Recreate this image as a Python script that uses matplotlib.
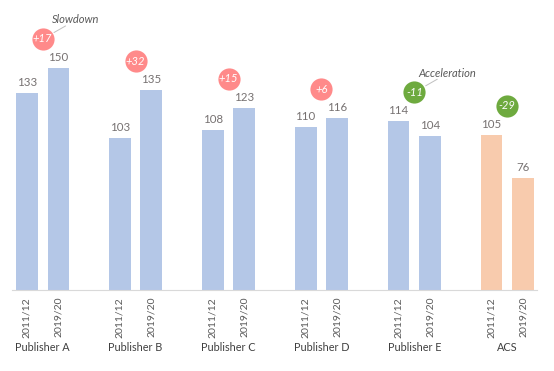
import matplotlib
matplotlib.use("Agg")
import matplotlib.pyplot as plt
import numpy as np

plt.rcParams['font.family'] = ['Lato', 'DejaVu Sans']

publishers = ["Publisher A", "Publisher B", "Publisher C", "Publisher D", "Publisher E", "ACS"]
periods = ["2011/12", "2019/20"]
values_2011 = [133, 103, 108, 110, 114, 105]
values_2019 = [150, 135, 123, 116, 104, 76]
changes = [17, 32, 15, 6, -11, -29]
bar_colors = ["#B4C7E7", "#B4C7E7", "#B4C7E7", "#B4C7E7", "#B4C7E7", "#F8CBAD"]
notes = {0: "Slowdown", 4: "Acceleration"}

W, H, DPI = 554, 371, 100
fig = plt.figure(figsize=(W / DPI, H / DPI), dpi=DPI)
ax = fig.add_axes([12 / W, (H - 290) / H, (537 - 12) / W, 290 / H])

x = np.arange(len(publishers))
off = 0.17
bw = 0.235
ax.bar(x - off, values_2011, width=bw, color=bar_colors)
ax.bar(x + off, values_2019, width=bw, color=bar_colors)

ax.set_xlim(-0.33, 5.32)
ax.set_ylim(0, 290 / 1.48)
for s in ["top", "right", "left"]:
    ax.spines[s].set_visible(False)
ax.spines["bottom"].set_color("#D9D9D9")
ax.spines["bottom"].set_linewidth(0.8)
ax.set_yticks([])

ticks = np.concatenate([x - off, x + off])
labels = [periods[0]] * len(x) + [periods[1]] * len(x)
ax.set_xticks(ticks)
ax.set_xticklabels(labels, rotation=90, fontsize=7.5, color="#595959")
ax.tick_params(axis="x", length=0, pad=5)

txt_col = "#767171"
for i in range(len(x)):
    for xx, v in ((x[i] - off, values_2011[i]), (x[i] + off, values_2019[i])):
        ax.annotate(str(v), (xx, v), xytext=(0, 3.5), textcoords="offset points",
                    ha="center", va="bottom", fontsize=8.3, color=txt_col)
    ax.text(x[i], -0.197, publishers[i], transform=ax.get_xaxis_transform(),
            ha="center", va="center", fontsize=7.8, color="#404040")

    d = changes[i]
    by = max(values_2011[i], values_2019[i]) + 19.6
    col = "#FF8A8A" if d > 0 else "#6EAA3F"
    ax.scatter([x[i]], [by], s=255, color=col, zorder=3, clip_on=False, linewidths=0)
    ax.text(x[i], by, f"{d:+d}", ha="center", va="center", fontsize=8,
            color="white", style="italic", zorder=4)
    if i in notes:
        ax.annotate("", xy=(x[i], by), xytext=(16.5, 9.4), textcoords="offset points",
                    arrowprops=dict(arrowstyle="-", color="#BFBFBF", lw=0.7,
                                    shrinkA=0, shrinkB=9.4))
        ax.annotate(notes[i], (x[i], by), xytext=(24, 13.7), textcoords="offset points",
                    ha="center", va="center", fontsize=8, style="italic",
                    color="#595959", annotation_clip=False)

fig.savefig("out.png", dpi=DPI)
